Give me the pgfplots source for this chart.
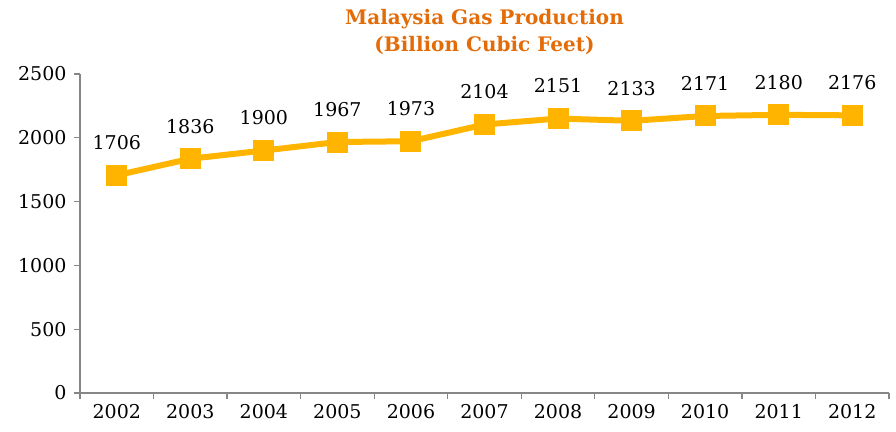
\documentclass[border=0pt]{standalone}
\usepackage{pgfplots}
\pgfplotsset{compat=1.18}
\usepackage{fontspec}
\setmainfont{DejaVu Serif}
\definecolor{gold}{HTML}{FFB400}
\definecolor{titleor}{HTML}{E36C09}
\definecolor{axgray}{HTML}{868686}
\begin{document}
\begin{tikzpicture}
\useasboundingbox (-80bp,-39bp) rectangle (816bp,393bp);
\begin{axis}[
  at={(0,0)}, anchor=south west,
  scale only axis, width=809bp, height=319bp,
  xmin=-0.5, xmax=10.5, ymin=0, ymax=2500,
  axis x line*=bottom, axis y line*=left,
  axis line style={axgray, line width=1.2bp},
  xtick={-0.5,0.5,...,10.5},
  xticklabels={,,,,,,,,,,,,},
  extra x ticks={0,1,2,3,4,5,6,7,8,9,10},
  extra x tick labels={2002,2003,2004,2005,2006,2007,2008,2009,2010,2011,2012},
  extra x tick style={major tick length=0pt, xticklabel style={yshift=-8bp}},
  ytick={0,500,...,2500},
  major tick length=6bp,
  tick style={axgray, line width=1.2bp},
  tick align=outside,
  tick label style={font=\fontsize{19bp}{21bp}\selectfont, text=black},
  yticklabel style={xshift=-4bp},
  /pgf/number format/assume math mode=true,
  /pgf/number format/1000 sep={},
  title={Malaysia Gas Production\\(Billion Cubic Feet)},
  title style={align=center, font=\bfseries\fontsize{20bp}{27bp}\selectfont, text=titleor, at={(0.5,1)}, anchor=south, yshift=10bp},
  nodes near coords,
  every node near coord/.style={font=\fontsize{19bp}{21bp}\selectfont, text=black, anchor=south, yshift=22bp},
  clip=false,
]
\addplot[gold, line width=6bp, mark=square*, mark size=10bp, mark options={fill=gold, draw=gold, line width=0pt}]
coordinates {(0,1706) (1,1836) (2,1900) (3,1967) (4,1973) (5,2104) (6,2151) (7,2133) (8,2171) (9,2180) (10,2176)};
\end{axis}
\end{tikzpicture}
\end{document}
